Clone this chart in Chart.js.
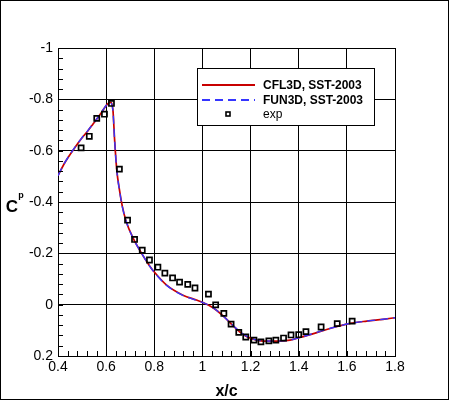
<!DOCTYPE html>
<html>
<head>
<meta charset="utf-8">
<script src="https://cdn.jsdelivr.net/npm/chart.js@4"></script>
<style>
  html, body { margin: 0; padding: 0; background: #fff; }
  #wrap { width: 450px; height: 401px; }
</style>
</head>
<body>
<div id="wrap"><canvas id="cpChart" width="450" height="401"></canvas></div>
<script>
// surface pressure, CFD curves (x/c, Cp)
const cfdX = [0.400, 0.430, 0.464, 0.500, 0.523, 0.545, 0.565, 0.585, 0.607, 0.618, 0.628, 0.635, 0.644, 0.655, 0.667, 0.683, 0.711, 0.746, 0.780, 0.801, 0.850, 0.919, 0.975, 1.003, 1.044, 1.086, 1.128, 1.169, 1.211, 1.253, 1.308, 1.364, 1.405, 1.475, 1.544, 1.614, 1.683, 1.750, 1.800];
const cfl3dCp = [-0.503, -0.556, -0.604, -0.650, -0.676, -0.703, -0.728, -0.755, -0.783, -0.788, -0.760, -0.645, -0.526, -0.449, -0.384, -0.325, -0.261, -0.202, -0.152, -0.126, -0.077, -0.037, -0.018, -0.008, 0.012, 0.044, 0.083, 0.116, 0.135, 0.142, 0.142, 0.138, 0.128, 0.109, 0.089, 0.073, 0.064, 0.057, 0.051];
const fun3dCp = [-0.503, -0.556, -0.605, -0.651, -0.677, -0.704, -0.729, -0.756, -0.783, -0.786, -0.758, -0.644, -0.525, -0.448, -0.383, -0.325, -0.261, -0.202, -0.151, -0.125, -0.076, -0.036, -0.017, -0.008, 0.012, 0.044, 0.082, 0.115, 0.134, 0.141, 0.142, 0.138, 0.128, 0.108, 0.089, 0.073, 0.064, 0.057, 0.051];

// experiment
const expX = [0.496, 0.530, 0.561, 0.593, 0.622, 0.655, 0.689, 0.718, 0.750, 0.780, 0.815, 0.844, 0.876, 0.905, 0.939, 0.969, 1.025, 1.055, 1.089, 1.119, 1.151, 1.180, 1.214, 1.243, 1.276, 1.305, 1.337, 1.368, 1.400, 1.430, 1.493, 1.560, 1.622];
const expCp = [-0.611, -0.656, -0.726, -0.742, -0.784, -0.528, -0.329, -0.254, -0.212, -0.174, -0.146, -0.123, -0.104, -0.088, -0.079, -0.065, -0.041, 0.001, 0.034, 0.076, 0.108, 0.126, 0.138, 0.145, 0.141, 0.138, 0.130, 0.118, 0.117, 0.105, 0.087, 0.074, 0.064];

const seriesLabels = ["CFL3D, SST-2003", "FUN3D, SST-2003", "exp"];
const xTicks = [0.4, 0.6, 0.8, 1.0, 1.2, 1.4, 1.6, 1.8];
const xTickLabels = ["0.4", "0.6", "0.8", "1", "1.2", "1.4", "1.6", "1.8"];
const yTicks = [-1, -0.8, -0.6, -0.4, -0.2, 0, 0.2];
const yTickLabels = ["-1", "-0.8", "-0.6", "-0.4", "-0.2", "0", "0.2"];

const RED = "#c80000";
const BLUE = "#3535ff";

function pts(xs, ys) {
    return xs.map((x, i) => ({ x: x, y: ys[i] }));
}

function labelFor(list, labels, v) {
    const i = list.findIndex(t => Math.abs(t - v) < 1e-6);
    return i >= 0 ? labels[i] : "";
}

// inward minor ticks + frame + Cp title + legend box
const extras = {
    id: "extras",
    afterDatasetsDraw(chart) {
        const ctx = chart.ctx;
        const a = chart.chartArea;
        const xs = chart.scales.x, ys = chart.scales.y;
        ctx.save();
        ctx.strokeStyle = "#000";
        ctx.lineWidth = 1;
        ctx.beginPath();
        for (let k = 0; k <= 35; k++) {
            const px = Math.round(xs.getPixelForValue(0.4 + k * 0.04)) + 0.5;
            ctx.moveTo(px, a.bottom);
            ctx.lineTo(px, a.bottom - 5);
        }
        for (let k = 0; k <= 30; k++) {
            const py = Math.round(ys.getPixelForValue(-1 + k * 0.04)) + 0.5;
            ctx.moveTo(a.left, py);
            ctx.lineTo(a.left + 5, py);
        }
        ctx.stroke();

        // legend
        const lx = 197, ly = 68, lw = 177, lh = 57;
        ctx.fillStyle = "#fff";
        ctx.fillRect(lx, ly, lw, lh);
        ctx.strokeRect(lx + 0.5, ly + 0.5, lw, lh);
        const rows = [85, 100, 114];
        ctx.lineWidth = 2;
        ctx.strokeStyle = RED;
        ctx.beginPath(); ctx.moveTo(202, rows[0]); ctx.lineTo(255, rows[0]); ctx.stroke();
        ctx.strokeStyle = BLUE;
        ctx.setLineDash([8, 5]);
        ctx.beginPath(); ctx.moveTo(202, rows[1]); ctx.lineTo(255, rows[1]); ctx.stroke();
        ctx.setLineDash([]);
        ctx.strokeStyle = "#000";
        ctx.lineWidth = 1.6;
        ctx.strokeRect(226, rows[2] - 2, 4, 4);
        ctx.fillStyle = "#000";
        ctx.textBaseline = "middle";
        ctx.textAlign = "left";
        seriesLabels.forEach((t, i) => {
            ctx.font = i < 2 ? "bold 12px Arial, 'Liberation Sans', sans-serif" : "12px Arial, 'Liberation Sans', sans-serif";
            ctx.fillText(t, 263, rows[i] + 0.5);
        });

        // y axis title C_p
        ctx.font = "bold 17px Arial, 'Liberation Sans', sans-serif";
        ctx.textAlign = "center";
        ctx.fillText("C", 12, 207);
        ctx.font = "bold 9px Arial, 'Liberation Sans', sans-serif";
        ctx.fillText("p", 21, 196);

        // image frame
        ctx.lineWidth = 1;
        ctx.strokeRect(0.5, 0.5, 448, 399);
        ctx.restore();
    }
};

const chart = new Chart(document.getElementById("cpChart"), {
    type: "scatter",
    data: {
        datasets: [
            {
                label: seriesLabels[0],
                data: pts(cfdX, cfl3dCp),
                showLine: true,
                borderColor: RED,
                borderWidth: 1.7,
                pointRadius: 0,
                cubicInterpolationMode: "monotone",
                order: 3
            },
            {
                label: seriesLabels[1],
                data: pts(cfdX, fun3dCp),
                showLine: true,
                borderColor: BLUE,
                borderWidth: 1.4,
                borderDash: [8, 5],
                pointRadius: 0,
                cubicInterpolationMode: "monotone",
                order: 2
            },
            {
                label: seriesLabels[2],
                data: pts(expX, expCp),
                showLine: false,
                pointStyle: "rect",
                pointRadius: 3.6,
                borderColor: "#000",
                borderWidth: 1.7,
                backgroundColor: "rgba(255,255,255,0)",
                order: 1
            }
        ]
    },
    options: {
        responsive: false,
        animation: false,
        devicePixelRatio: 1,
        layout: { padding: { left: 0, top: 48, right: 55, bottom: 0 } },
        plugins: {
            legend: { display: false },
            tooltip: { enabled: false }
        },
        scales: {
            x: {
                type: "linear",
                min: 0.4,
                max: 1.8,
                afterBuildTicks: s => { s.ticks = xTicks.map(v => ({ value: v })); },
                afterFit: s => { s.height = 45; },
                grid: { color: "#000", lineWidth: 1, drawTicks: false },
                border: { color: "#000", width: 1 },
                ticks: {
                    color: "#000",
                    padding: 3,
                    maxRotation: 0,
                    autoSkip: false,
                    font: { family: "Arial, 'Liberation Sans', sans-serif", size: 14 },
                    callback: v => labelFor(xTicks, xTickLabels, v)
                },
                title: {
                    display: true,
                    text: "x/c",
                    color: "#000",
                    padding: { top: 0, bottom: 0 },
                    font: { family: "Arial, 'Liberation Sans', sans-serif", size: 16, weight: "bold" }
                }
            },
            y: {
                type: "linear",
                min: -1,
                max: 0.2,
                reverse: true,
                afterBuildTicks: s => { s.ticks = yTicks.map(v => ({ value: v })); },
                afterFit: s => { s.width = 58; },
                grid: { color: "#000", lineWidth: 1, drawTicks: false },
                border: { color: "#000", width: 1 },
                ticks: {
                    color: "#000",
                    padding: 5,
                    autoSkip: false,
                    font: { family: "Arial, 'Liberation Sans', sans-serif", size: 14 },
                    callback: v => labelFor(yTicks, yTickLabels, v)
                }
            }
        }
    },
    plugins: [extras]
});
</script>
</body>
</html>
